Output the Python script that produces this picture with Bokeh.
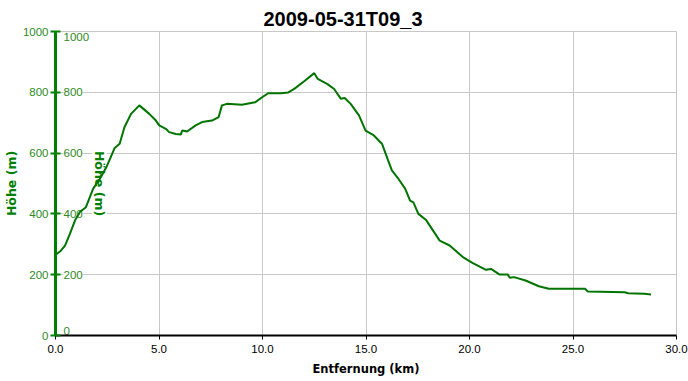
from math import pi
from bokeh.plotting import figure
from bokeh.models import (ColumnDataSource, FixedTicker, LabelSet, Label,
                          PrintfTickFormatter, Range1d)
from bokeh.core.properties import value
from bokeh.embed import file_html
from bokeh.resources import INLINE

title_text = "2009-05-31T09_3"
x_label = "Entfernung (km)"
y_label = "Höhe (m)"

dist_km = [0.0, 0.07, 0.25, 0.46, 0.7, 0.94, 1.18, 1.47, 1.66, 1.82, 2.14, 2.46,
           2.7, 2.86, 3.1, 3.33, 3.65, 4.05, 4.53, 4.85, 5.01, 5.33, 5.49, 5.81,
           6.05, 6.12, 6.36, 6.77, 7.08, 7.56, 7.88, 8.04, 8.28, 9.0, 9.64, 9.95,
           10.27, 10.91, 11.23, 11.55, 12.03, 12.5, 12.67, 13.14, 13.46, 13.78,
           13.97, 14.26, 14.66, 14.98, 15.38, 15.77, 16.01, 16.25, 16.57, 16.89,
           17.13, 17.29, 17.53, 17.89, 18.56, 19.04, 19.68, 20.16, 20.8, 21.04,
           21.44, 21.84, 21.95, 22.15, 22.71, 23.35, 23.83, 25.58, 25.71, 27.5,
           27.66, 28.45, 28.77]
elev_m = [268, 269, 278, 296, 335, 378, 406, 422, 455, 483, 515, 554,
          592, 617, 631, 685, 729, 757, 729, 707, 691, 680, 669, 663,
          661, 674, 671, 691, 702, 707, 718, 757, 762, 759, 767, 782,
          797, 797, 799, 812, 837, 863, 844, 827, 811, 779,
          781, 762, 724, 674, 658, 631, 587, 543, 515, 483,
          444, 438, 400, 381, 312, 296, 258, 238, 216, 219,
          201, 201, 190, 192, 181, 162, 154, 154, 145, 142,
          139, 137, 135]

x_ticks = [0, 5, 10, 15, 20, 25, 30]
y_ticks = [0, 200, 400, 600, 800, 1000]
y_tick_labels = [str(v) for v in y_ticks]

GREEN = "#008000"
LABEL_GREEN = "#2e8a1e"
GRID = "#c8c8c8"

p = figure(width=688, height=381, output_backend="svg", toolbar_location=None,
           x_range=Range1d(x_ticks[0], x_ticks[-1]),
           y_range=Range1d(y_ticks[0], y_ticks[-1]),
           min_border_left=47, min_border_right=12, min_border_top=31,
           min_border_bottom=46)

p.title.text = title_text
p.title.align = "left"
p.title.text_font = "Liberation Sans"
p.title.text_font_size = "20px"
p.title.text_font_style = "bold"
p.title.text_color = "#000000"
p.title.standoff = 4
p.title.offset = 208

p.outline_line_color = GRID
p.background_fill_color = "white"
p.border_fill_color = "white"

# grids
p.xgrid.ticker = FixedTicker(ticks=x_ticks)
p.ygrid.ticker = FixedTicker(ticks=y_ticks)
p.xgrid.grid_line_color = GRID
p.ygrid.grid_line_color = GRID

# x axis
xa = p.xaxis[0]
xa.ticker = FixedTicker(ticks=x_ticks)
xa.formatter = PrintfTickFormatter(format="%.1f")
xa.axis_label = x_label
xa.axis_label_text_font = "DejaVu Sans"
xa.axis_label_text_font_size = "11.5px"
xa.axis_label_text_font_style = "bold"
xa.axis_label_text_color = "#000000"
xa.axis_label_standoff = 6
xa.major_label_text_font = "Liberation Sans"
xa.major_label_text_font_size = "11.5px"
xa.major_label_text_color = "#000000"
xa.major_label_standoff = 5
xa.axis_line_color = "#000000"
xa.axis_line_width = 2
xa.major_tick_line_color = "#000000"
xa.major_tick_out = 4
xa.major_tick_in = 0
xa.minor_tick_line_color = None

# y axis (outer labels)
ya = p.yaxis[0]
ya.ticker = FixedTicker(ticks=y_ticks)
ya.axis_label = y_label
ya.axis_label_text_font = "DejaVu Sans"
ya.axis_label_text_font_size = "12.5px"
ya.axis_label_text_font_style = "bold"
ya.axis_label_text_color = GREEN
ya.axis_label_standoff = 1
ya.major_label_text_font = "Liberation Sans"
ya.major_label_text_font_size = "11.5px"
ya.major_label_text_color = LABEL_GREEN
ya.major_label_standoff = 2
ya.axis_line_color = GREEN
ya.axis_line_width = 3
ya.major_tick_line_color = GREEN
ya.major_tick_line_width = 2
ya.major_tick_out = 5
ya.major_tick_in = 5
ya.minor_tick_line_color = None

# inner (mirrored) tick labels, right of the axis line
common = dict(x="x", y="y", text="t", x_offset=8, text_align="left",
              text_font=value("Liberation Sans"),
              text_font_size=value("11.5px"),
              text_color=LABEL_GREEN, background_fill_color="white",
              level="underlay")
n = len(y_ticks)
mid_src = ColumnDataSource(dict(x=[x_ticks[0]] * (n - 2), y=y_ticks[1:-1],
                                t=y_tick_labels[1:-1]))
top_src = ColumnDataSource(dict(x=[x_ticks[0]], y=[y_ticks[-1]],
                                t=[y_tick_labels[-1]]))
bot_src = ColumnDataSource(dict(x=[x_ticks[0]], y=[y_ticks[0]],
                                t=[y_tick_labels[0]]))
p.add_layout(LabelSet(source=mid_src, text_baseline="middle", **common))
p.add_layout(LabelSet(source=top_src, text_baseline="top", y_offset=-1,
                      **common))
p.add_layout(LabelSet(source=bot_src, text_baseline="bottom", y_offset=1,
                      **common))

p.add_layout(Label(x=x_ticks[0], y=(y_ticks[0] + y_ticks[-1]) / 2,
                   text=y_label, angle=-pi / 2, x_offset=44,
                   text_align="center", text_baseline="middle",
                   text_font="DejaVu Sans", text_font_size="12.5px",
                   text_font_style="bold", text_color=GREEN,
                   background_fill_color="white", level="underlay"))

p.line(dist_km, elev_m, line_color="#007400", line_width=2)

open("out.html", "w").write(file_html(p, INLINE))
